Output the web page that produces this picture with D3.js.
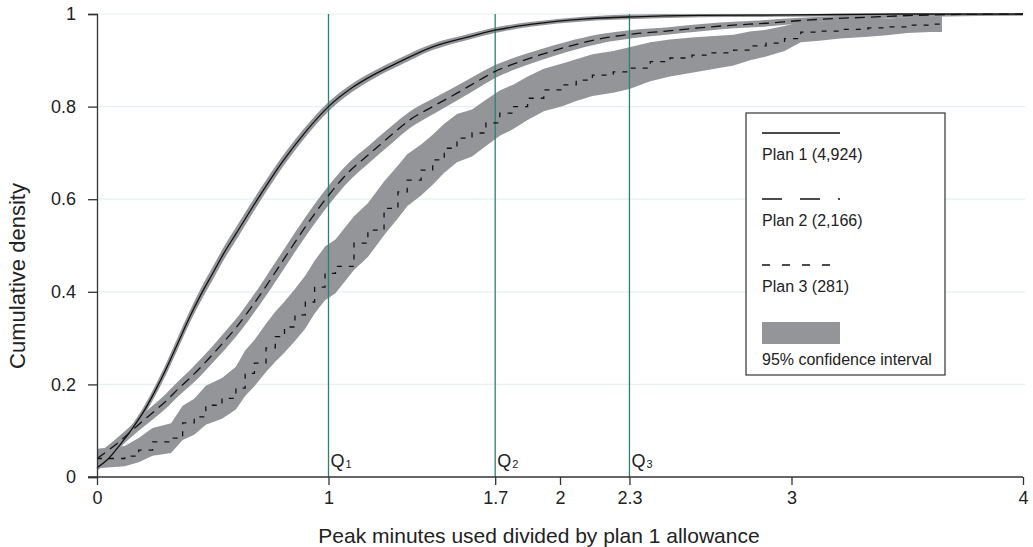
<!DOCTYPE html>
<html>
<head>
<meta charset="utf-8">
<script src="https://cdn.jsdelivr.net/npm/d3@7"></script>
<style>
    body { margin: 0; background: #fff; }
    text { font-family: "Liberation Sans", Arial, Helvetica, sans-serif; fill: #222; }
</style>
</head>
<body>
<svg id="chart" width="1033" height="547"></svg>
<script>
const plan1X = [0, 0.05, 0.1, 0.15, 0.2, 0.25, 0.3, 0.35, 0.4, 0.45, 0.5, 0.55, 0.6, 0.7, 0.8, 0.9, 1.0, 1.1, 1.2, 1.3, 1.45, 1.6, 1.72, 1.88, 2.1, 2.32, 2.6, 3.0, 3.47, 4.0];
const plan1P = [0.02, 0.04, 0.07, 0.103, 0.14, 0.185, 0.235, 0.29, 0.345, 0.395, 0.44, 0.485, 0.525, 0.605, 0.68, 0.745, 0.80, 0.84, 0.87, 0.895, 0.929, 0.95, 0.965, 0.978, 0.989, 0.994, 0.997, 0.998, 1.0, 1.0];
const plan1Hw = [0.006, 0.007, 0.008, 0.009, 0.010, 0.011, 0.012, 0.013, 0.013, 0.014, 0.014, 0.014, 0.014, 0.013, 0.012, 0.011, 0.010, 0.009, 0.008, 0.008, 0.007, 0.006, 0.006, 0.005, 0.005, 0.005, 0.004, 0.004, 0.003, 0.003];

// Plan 2 (long dash)
const plan2X = [0, 0.05, 0.1, 0.15, 0.2, 0.25, 0.3, 0.35, 0.4, 0.45, 0.5, 0.55, 0.6, 0.65, 0.7, 0.75, 0.8, 0.9, 1.0, 1.09, 1.17, 1.27, 1.35, 1.45, 1.555, 1.655, 1.72, 1.81, 1.91, 2.03, 2.17, 2.32, 2.46, 2.60, 2.75, 2.89, 3.04, 3.18, 3.33, 3.47, 3.61, 4.0];
const plan2P = [0.04, 0.058, 0.078, 0.1, 0.122, 0.143, 0.165, 0.19, 0.213, 0.238, 0.265, 0.293, 0.322, 0.355, 0.39, 0.427, 0.465, 0.54, 0.608, 0.66, 0.695, 0.738, 0.771, 0.80, 0.829, 0.858, 0.876, 0.894, 0.911, 0.929, 0.946, 0.957, 0.963, 0.97, 0.976, 0.98, 0.986, 0.99, 0.993, 0.996, 0.998, 1.0];
const plan2Hw = [0.010, 0.011, 0.012, 0.013, 0.014, 0.015, 0.016, 0.016, 0.017, 0.018, 0.018, 0.019, 0.019, 0.020, 0.020, 0.021, 0.021, 0.021, 0.021, 0.020, 0.019, 0.019, 0.018, 0.017, 0.016, 0.015, 0.014, 0.013, 0.012, 0.011, 0.010, 0.009, 0.008, 0.008, 0.007, 0.007, 0.006, 0.005, 0.005, 0.004, 0.004, 0.003];

// Plan 3 (short dash, stepped)
const plan3X = [0, 0.12, 0.18, 0.24, 0.32, 0.37, 0.42, 0.47, 0.54, 0.60, 0.64, 0.68, 0.73, 0.77, 0.81, 0.855, 0.90, 0.94, 0.985, 1.03, 1.11, 1.17, 1.24, 1.30, 1.34, 1.40, 1.45, 1.50, 1.555, 1.62, 1.68, 1.74, 1.80, 1.86, 1.93, 2.01, 2.07, 2.14, 2.23, 2.30, 2.39, 2.475, 2.57, 2.65, 2.75, 2.82, 2.89, 2.97, 3.04, 3.12, 3.21, 3.33, 3.41, 3.50, 3.60, 3.65];
const plan3P = [0.04, 0.045, 0.058, 0.076, 0.084, 0.117, 0.13, 0.155, 0.17, 0.192, 0.224, 0.246, 0.279, 0.303, 0.324, 0.35, 0.378, 0.41, 0.44, 0.455, 0.505, 0.533, 0.58, 0.616, 0.641, 0.663, 0.685, 0.71, 0.732, 0.743, 0.765, 0.786, 0.80, 0.818, 0.836, 0.847, 0.857, 0.868, 0.875, 0.883, 0.897, 0.905, 0.911, 0.916, 0.922, 0.931, 0.937, 0.947, 0.961, 0.963, 0.967, 0.97, 0.972, 0.976, 0.978, 0.978];
const plan3Hw = [0.021, 0.022, 0.026, 0.030, 0.032, 0.037, 0.039, 0.042, 0.044, 0.046, 0.049, 0.050, 0.052, 0.054, 0.055, 0.056, 0.057, 0.057, 0.058, 0.058, 0.058, 0.058, 0.058, 0.057, 0.056, 0.055, 0.054, 0.053, 0.052, 0.051, 0.050, 0.049, 0.048, 0.047, 0.046, 0.046, 0.045, 0.045, 0.045, 0.045, 0.042, 0.040, 0.038, 0.036, 0.033, 0.031, 0.029, 0.027, 0.022, 0.021, 0.020, 0.019, 0.018, 0.017, 0.017, 0.017];

// Quartiles of plan 1 usage and axis ticks
const quartiles = [1.0, 1.72, 2.3];
const quartileNames = ["1", "2", "3"];
const xTickValues = [0, 1, 1.72, 2, 2.3, 3, 4];
const xTickLabels = ["0", "1", "1.7", "2", "2.3", "3", "4"];
const yTickValues = [0, 0.2, 0.4, 0.6, 0.8, 1];
const yTickLabels = ["0", "0.2", "0.4", "0.6", "0.8", "1"];

const legendItems = ["Plan 1 (4,924)", "Plan 2 (2,166)", "Plan 3 (281)"];

const svg = d3.select("#chart");
const bandColor = "#939598";
const qColor = "#2f8072";

const x = d3.scaleLinear().domain([0, 4]).range([97, 1023]);
const y = d3.scaleLinear().domain([0, 1]).range([477, 14]);

// Zip arrays into point objects
const toPoints = (xs, ps, hws) => xs.map((v, i) => ({
    x: v,
    p: ps[i],
    lo: Math.max(0, ps[i] - hws[i]),
    hi: Math.min(1, ps[i] + hws[i])
}));
const plans = [
    { pts: toPoints(plan1X, plan1P, plan1Hw), lineCurve: d3.curveMonotoneX, bandCurve: d3.curveMonotoneX, dash: null },
    { pts: toPoints(plan2X, plan2P, plan2Hw), lineCurve: d3.curveMonotoneX, bandCurve: d3.curveMonotoneX, dash: "10,6" },
    { pts: toPoints(plan3X, plan3P, plan3Hw), lineCurve: d3.curveStepAfter, bandCurve: d3.curveLinear, dash: "5,7" }
];

// Light gridlines
svg.append("g")
    .selectAll("line")
    .data(yTickValues.filter((d) => d > 0))
    .enter()
    .append("line")
    .attr("x1", x(0)).attr("x2", 1025)
    .attr("y1", (d) => y(d)).attr("y2", (d) => y(d))
    .attr("stroke", "#e6f0f2")
    .attr("stroke-width", 1.2);

// Confidence bands
plans.forEach((plan) => {
    const area = d3.area()
        .curve(plan.bandCurve)
        .x((d) => x(d.x))
        .y0((d) => y(d.lo))
        .y1((d) => y(d.hi));
    svg.append("path")
        .datum(plan.pts)
        .attr("d", area)
        .attr("fill", bandColor);
});

// Quartile lines + labels
const qg = svg.append("g");
quartiles.forEach((q, i) => {
    qg.append("line")
        .attr("x1", x(q)).attr("x2", x(q))
        .attr("y1", y(1)).attr("y2", y(0))
        .attr("stroke", qColor)
        .attr("stroke-width", 1.3);
    const t = qg.append("text")
        .attr("x", x(q) + 2)
        .attr("y", 467)
        .attr("font-size", 18);
    t.append("tspan").text("Q");
    t.append("tspan").attr("font-size", 11).attr("dx", 1).attr("dy", 1).text(quartileNames[i]);
});

// CDF curves
plans.forEach((plan) => {
    const line = d3.line()
        .curve(plan.lineCurve)
        .x((d) => x(d.x))
        .y((d) => y(d.p));
    svg.append("path")
        .datum(plan.pts)
        .attr("d", line)
        .attr("fill", "none")
        .attr("stroke", "#111")
        .attr("stroke-width", 1.3)
        .attr("stroke-dasharray", plan.dash);
});

// Axes
const yAxis = d3.axisLeft(y)
    .tickValues(yTickValues)
    .tickFormat((d, i) => yTickLabels[i])
    .tickSize(9)
    .tickPadding(12);
const gy = svg.append("g").attr("transform", `translate(${x(0)},0)`).call(yAxis);
gy.select(".domain").attr("stroke", "#333").attr("stroke-width", 1.3);
gy.selectAll(".tick line").attr("stroke", "#333").attr("stroke-width", 1.3);
gy.selectAll(".tick text").attr("font-size", 18).attr("font-family", null).attr("fill", "#222");

const xAxis = d3.axisBottom(x)
    .tickValues(xTickValues)
    .tickFormat((d, i) => xTickLabels[i])
    .tickSize(8)
    .tickSizeOuter(0)
    .tickPadding(6);
const gx = svg.append("g").attr("transform", `translate(0,${y(0)})`).call(xAxis);
gx.select(".domain").attr("d", `M${x(0) - 9},0H${x(4)}`).attr("stroke", "#333").attr("stroke-width", 1.3);
gx.selectAll(".tick line").attr("stroke", "#333").attr("stroke-width", 1.3);
gx.selectAll(".tick text").attr("font-size", 18).attr("font-family", null).attr("fill", "#222");

// Axis titles
svg.append("text")
    .attr("transform", "translate(25,276) rotate(-90)")
    .attr("text-anchor", "middle")
    .attr("font-size", 22)
    .text("Cumulative density");
svg.append("text")
    .attr("x", 539)
    .attr("y", 543)
    .attr("text-anchor", "middle")
    .attr("font-size", 21)
    .text("Peak minutes used divided by plan 1 allowance");

// Legend
const lg = svg.append("g");
lg.append("rect")
    .attr("x", 746).attr("y", 113)
    .attr("width", 199).attr("height", 262)
    .attr("fill", "#fff")
    .attr("stroke", "#333")
    .attr("stroke-width", 1.2);
const legendDash = [null, "20,18", "8,12"];
legendItems.forEach((label, i) => {
    const ly = 133 + i * 66;
    lg.append("line")
        .attr("x1", 762).attr("x2", 840)
        .attr("y1", ly).attr("y2", ly)
        .attr("stroke", "#111")
        .attr("stroke-width", 1.3)
        .attr("stroke-dasharray", legendDash[i]);
    lg.append("text")
        .attr("x", 762).attr("y", ly + 27)
        .attr("font-size", 16)
        .text(label);
});
lg.append("rect")
    .attr("x", 762).attr("y", 322)
    .attr("width", 78).attr("height", 22)
    .attr("fill", bandColor);
lg.append("text")
    .attr("x", 762).attr("y", 365)
    .attr("font-size", 16)
    .text("95% confidence interval");
</script>
</body>
</html>
